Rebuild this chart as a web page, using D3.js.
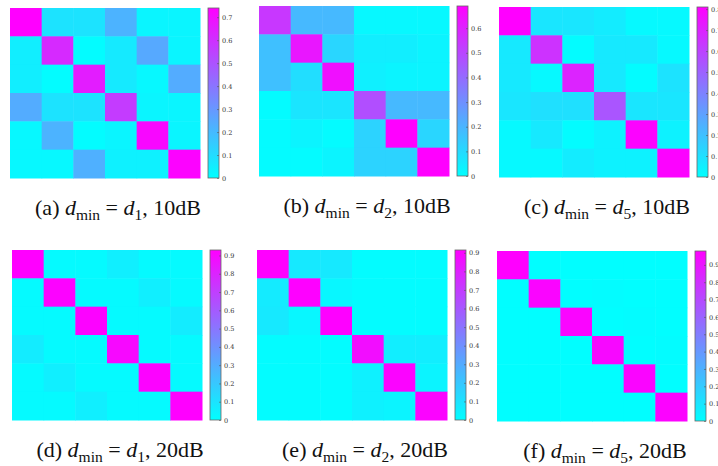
<!DOCTYPE html>
<html>
<head>
<meta charset="utf-8">
<script src="https://cdn.jsdelivr.net/npm/d3@7"></script>
<style>
  html, body { margin: 0; padding: 0; background: #fff; }
  svg { display: block; }
</style>
</head>
<body>
<svg id="chart" width="718" height="466"></svg>
<script>
// confusion-like matrices, rows top to bottom
const matA = [
  [0.74, 0.08, 0.08, 0.22, 0.03, 0.03],
  [0.05, 0.62, 0.01, 0.06, 0.25, 0.03],
  [0.05, 0.01, 0.66, 0.06, 0.02, 0.24],
  [0.24, 0.08, 0.08, 0.57, 0.03, 0.03],
  [0.02, 0.22, 0.01, 0.03, 0.72, 0.03],
  [0.02, 0.02, 0.23, 0.04, 0.04, 0.73]
];
const matB = [
  [0.54, 0.19, 0.19, 0.02, 0.02, 0.02],
  [0.17, 0.63, 0.11, 0.045, 0.045, 0.03],
  [0.17, 0.09, 0.65, 0.04, 0.03, 0.03],
  [0.01, 0.07, 0.07, 0.48, 0.19, 0.19],
  [0.01, 0.03, 0.01, 0.12, 0.69, 0.11],
  [0.01, 0.01, 0.03, 0.12, 0.12, 0.69]
];
const matC = [
  [0.81, 0.08, 0.08, 0.06, 0.02, 0.02],
  [0.07, 0.65, 0.01, 0.07, 0.07, 0.02],
  [0.07, 0.02, 0.70, 0.07, 0.01, 0.09],
  [0.08, 0.10, 0.10, 0.54, 0.08, 0.08],
  [0.02, 0.07, 0.01, 0.04, 0.80, 0.04],
  [0.02, 0.02, 0.06, 0.04, 0.04, 0.80]
];
const matD = [
  [0.93, 0.02, 0.02, 0.06, 0.02, 0.02],
  [0.02, 0.92, 0.02, 0.02, 0.06, 0.02],
  [0.02, 0.02, 0.92, 0.02, 0.02, 0.07],
  [0.07, 0.02, 0.02, 0.90, 0.02, 0.02],
  [0.02, 0.06, 0.02, 0.02, 0.92, 0.02],
  [0.02, 0.02, 0.06, 0.02, 0.02, 0.93]
];
const matE = [
  [0.915, 0.08, 0.08, 0.01, 0.01, 0.01],
  [0.07, 0.91, 0.03, 0.01, 0.01, 0.01],
  [0.08, 0.03, 0.91, 0.01, 0.01, 0.01],
  [0.01, 0.01, 0.01, 0.87, 0.06, 0.06],
  [0.01, 0.01, 0.01, 0.05, 0.90, 0.04],
  [0.01, 0.01, 0.01, 0.05, 0.04, 0.90]
];
const matF = [
  [0.98, 0.005, 0.005, 0.005, 0.005, 0.005],
  [0.005, 0.96, 0.005, 0.01, 0.005, 0.005],
  [0.005, 0.005, 0.96, 0.005, 0.01, 0.005],
  [0.005, 0.005, 0.005, 0.95, 0.005, 0.01],
  [0.005, 0.005, 0.005, 0.005, 0.96, 0.005],
  [0.005, 0.005, 0.005, 0.005, 0.005, 0.97]
];

const matrices = [matA, matB, matC, matD, matE, matF];
const captionLetters = ["(a)", "(b)", "(c)", "(d)", "(e)", "(f)"];
const dSubs = ["1", "2", "5", "1", "2", "5"];
const snrLabels = ["10dB", "10dB", "10dB", "20dB", "20dB", "20dB"];

// panel placement (heatmap top-left corner)
const panelPos = [
  [10, 8], [259, 6], [499, 7],
  [12, 250], [257, 250], [497, 251]
];
const mapW = 190, mapH = 170;
const barGap = 8, barW = 11;

const svg = d3.select("#chart");
const defs = svg.append("defs");

const grad = defs.append("linearGradient")
  .attr("id", "coolGrad")
  .attr("x1", 0).attr("y1", 1).attr("x2", 0).attr("y2", 0);
grad.append("stop").attr("offset", "0%").attr("stop-color", "#00ffff");
grad.append("stop").attr("offset", "100%").attr("stop-color", "#ff00ff");

matrices.forEach((mat, p) => {
  const [px, py] = panelPos[p];
  const g = svg.append("g").attr("transform", `translate(${px},${py})`);
  const n = mat.length;
  const cmax = d3.max(mat.flat());

  const x = d3.scaleBand().domain(d3.range(n)).range([0, mapW]);
  const y = d3.scaleBand().domain(d3.range(n)).range([0, mapH]);
  const color = d3.scaleLinear().domain([0, cmax])
    .range(["#00ffff", "#ff00ff"]).interpolate(d3.interpolateRgb);

  const cells = mat.flatMap((row, i) => row.map((v, j) => ({ i, j, v })));
  g.append("g")
    .selectAll("rect")
    .data(cells)
    .join("rect")
    .attr("x", d => x(d.j))
    .attr("y", d => y(d.i))
    .attr("width", x.bandwidth() + 0.5)
    .attr("height", y.bandwidth() + 0.5)
    .attr("fill", d => color(d.v));

  // colorbar
  const bx = mapW + barGap;
  const cy = d3.scaleLinear().domain([0, cmax]).range([mapH, 0]);
  g.append("rect")
    .attr("x", bx).attr("y", 0)
    .attr("width", barW).attr("height", mapH)
    .attr("fill", "url(#coolGrad)")
    .attr("stroke", "#666")
    .attr("stroke-width", 0.8);

  const axis = d3.axisRight(cy)
    .tickValues(d3.range(0, cmax + 1e-9, 0.1))
    .tickSize(-2)
    .tickPadding(3)
    .tickFormat(d => d < 1e-9 ? "0" : d3.format(".1f")(d));
  const ax = g.append("g")
    .attr("transform", `translate(${bx + barW},0)`)
    .call(axis);
  ax.select(".domain").remove();
  ax.selectAll(".tick line").attr("stroke", "#555").attr("stroke-width", 0.6);
  ax.selectAll(".tick text")
    .attr("fill", "#333")
    .style("font-family", "'DejaVu Serif', serif")
    .style("font-size", "6.5px");

  // caption
  const cap = g.append("text")
    .attr("x", 108)
    .attr("y", 207)
    .attr("text-anchor", "middle")
    .style("font-family", "'Liberation Serif', 'Times New Roman', serif")
    .style("font-size", "22px")
    .attr("fill", "#111");
  cap.append("tspan").text(captionLetters[p] + " ");
  cap.append("tspan").style("font-style", "italic").text("d");
  cap.append("tspan").attr("dy", 4.5).style("font-size", "15.5px").text("min");
  cap.append("tspan").attr("dy", -4.5).text(" = ");
  cap.append("tspan").style("font-style", "italic").text("d");
  cap.append("tspan").attr("dy", 4.5).style("font-size", "15.5px").text(dSubs[p]);
  cap.append("tspan").attr("dy", -4.5).text(", " + snrLabels[p]);
});
</script>
</body>
</html>
